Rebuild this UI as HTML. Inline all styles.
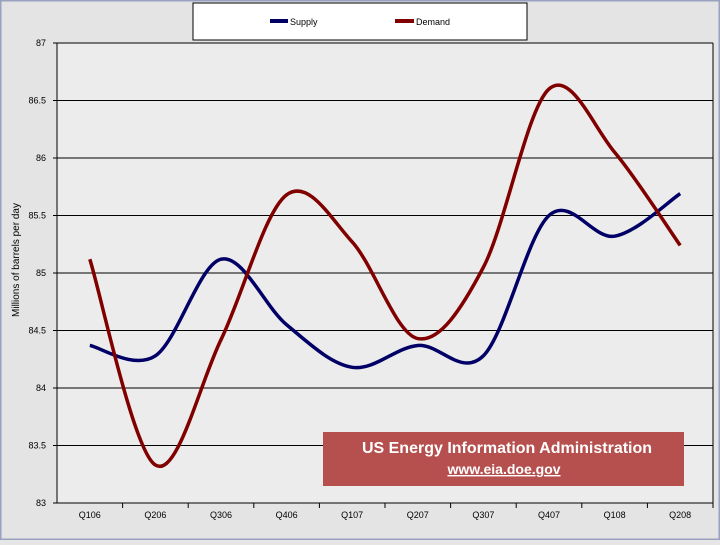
<!DOCTYPE html>
<html><head><meta charset="utf-8"><style>
body{margin:0;width:720px;height:540px;overflow:hidden;background:#e6e6e6;font-family:"Liberation Sans",sans-serif}
</style></head><body>
<svg width="720" height="540">
<rect x="0" y="0" width="720" height="540" fill="#e4e4e4" stroke="#9aa0c0" stroke-width="3"/>
<rect x="57" y="43" width="656" height="460" fill="#ececec"/>
<g id="grid"></g>
<g id="ax"></g>
<g id="series"></g>
<g>
<rect x="193" y="3" width="334" height="37" fill="#fff" stroke="#000"/>
<rect x="270" y="19" width="18" height="4" fill="#000066"/>
<text x="290" y="25" font-size="9">Supply</text>
<rect x="395" y="19" width="19" height="4" fill="#800000"/>
<text x="416" y="25" font-size="9">Demand</text>
</g>
<text transform="translate(19,260) rotate(-90)" text-anchor="middle" font-size="10">Millions of barrels per day</text>
<g>
<rect x="323" y="432" width="361" height="54" fill="#b5504f"/>
<text x="507" y="453" text-anchor="middle" font-size="16" font-weight="bold" fill="#fff">US Energy Information Administration</text>
<text x="504" y="474" text-anchor="middle" font-size="14" font-weight="bold" fill="#fff" text-decoration="underline">www.eia.doe.gov</text>
</g>
</svg>
<script>
const categories=["Q106","Q206","Q306","Q406","Q107","Q207","Q307","Q407","Q108","Q208"];
const supply=[84.37,84.28,85.12,84.55,84.18,84.37,84.28,85.5,85.32,85.69];
const demand=[85.12,83.33,84.42,85.68,85.27,84.43,85.05,86.6,86.05,85.24];
const yTicks=[83,83.5,84,84.5,85,85.5,86,86.5,87];
const NS="http://www.w3.org/2000/svg";
const L=57,R=713,T=43,B=503,bw=(R-L)/categories.length;
const x=i=>L+bw*(i+0.5);
const y=v=>B-(v-83)/4*(B-T);
function mk(tag,a,p){const e=document.createElementNS(NS,tag);for(const k in a)e.setAttribute(k,a[k]);p.appendChild(e);return e;}
const grid=document.getElementById('grid'),ax=document.getElementById('ax'),ser=document.getElementById('series');
yTicks.forEach(t=>{
 const l=mk('line',{x1:L-4,x2:R,y1:y(t),y2:y(t),stroke:'#000','stroke-width':1},grid);
 
 
 const tx=mk('text',{x:L-11,y:y(t)+3,'text-anchor':'end','font-size':9},ax);
 tx.textContent=t;
 
 
});
const ya=mk('line',{x1:L,x2:L,y1:T,y2:B,stroke:'#000'},ax);


const ra=mk('line',{x1:R,x2:R,y1:T,y2:B,stroke:'#000'},ax);


categories.forEach((c,i)=>{
 const tk=mk('line',{x1:L+bw*(i+1),x2:L+bw*(i+1),y1:B,y2:B+5,stroke:'#000'},ax);
 
 
 const tx=mk('text',{x:x(i),y:B+15,'text-anchor':'middle','font-size':9},ax);
 tx.textContent=c;
 
 
});
function path(vals){
 const p=vals.map((v,i)=>[x(i),y(v)]);
 let d='M'+p[0][0]+','+p[0][1];
 for(let i=0;i<p.length-1;i++){
  const p0=p[i-1]||p[i],p1=p[i],p2=p[i+1],p3=p[i+2]||p2;
  const c1=[p1[0]+(p2[0]-p0[0])/6,p1[1]+(p2[1]-p0[1])/6];
  const c2=[p2[0]-(p3[0]-p1[0])/6,p2[1]-(p3[1]-p1[1])/6];
  d+=`C${c1[0]},${c1[1]} ${c2[0]},${c2[1]} ${p2[0]},${p2[1]}`;
 }
 return d;
}
const sp=mk('path',{d:path(supply),fill:'none',stroke:'#000066','stroke-width':3.5},ser);


const dp=mk('path',{d:path(demand),fill:'none',stroke:'#800000','stroke-width':3.5},ser);


</script>
</body></html>
